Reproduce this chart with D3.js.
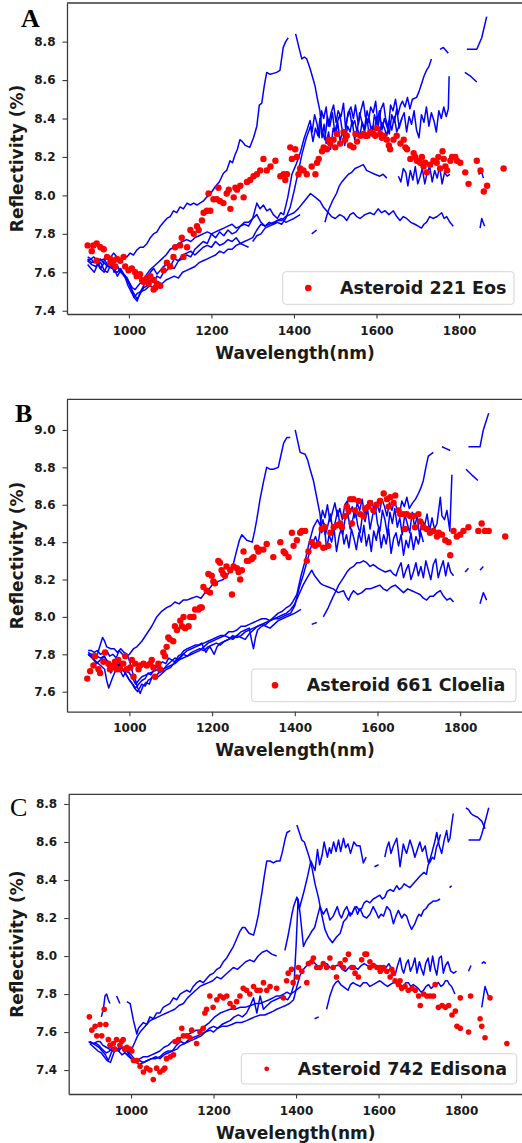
<!DOCTYPE html>
<html>
<head>
<meta charset="utf-8">
<script src="https://cdnjs.cloudflare.com/ajax/libs/d3/7.8.5/d3.min.js"></script>
<style>
  body { margin: 0; background: #fff; }
  svg text { font-family: "DejaVu Sans", sans-serif; }
</style>
</head>
<body>
<div id="chart"></div>
<script>
// ---------- shared tick values ----------
var xTicks = [1000, 1200, 1400, 1600, 1800];
var yTicksEos = [7.4, 7.6, 7.8, 8.0, 8.2, 8.4, 8.6, 8.8];
var yTicksCloelia = [7.6, 7.8, 8.0, 8.2, 8.4, 8.6, 8.8, 9.0];
var yTicksEdisona = [7.4, 7.6, 7.8, 8.0, 8.2, 8.4, 8.6, 8.8];

// ---------- panel A : Asteroid 221 Eos ----------
// lab spectra, [wavelength nm, reflectivity %], null = gap in the curve
var eosPeak = [[900,7.68],[908,7.67],[915,7.68],[923,7.66],[931,7.67],[938,7.65],[945,7.69],[953,7.67],[963,7.70],[971,7.68],[980,7.66],[988,7.69],[995,7.68],[1003,7.70],[1011,7.69],[1019,7.715],[1027,7.73],[1035,7.73],[1044,7.75],[1052,7.78],[1060,7.80],[1068,7.81],[1076,7.84],[1084,7.86],[1092,7.88],[1100,7.89],[1108,7.92],[1116,7.91],[1124,7.94],[1132,7.93],[1141,7.96],[1149,7.95],[1157,7.96],[1165,7.95],[1172,7.96],[1180,7.97],[1188,7.99],[1198,8.01],[1209,8.045],[1219,8.07],[1229,8.115],[1237,8.13],[1245,8.18],[1251,8.17],[1257,8.21],[1263,8.24],[1269,8.29],[1275,8.28],[1282,8.26],[1293,8.25],[1302,8.30],[1310,8.36],[1316,8.47],[1322,8.48],[1328,8.57],[1334,8.64],[1342,8.63],[1350,8.635],[1358,8.64],[1366,8.65],[1370,8.71],[1374,8.77],[1380,8.80],[1386,8.82],null,[1404,8.84],[1412,8.77],[1419,8.71],[1425,8.72],[1431,8.71],[1439,8.66],[1447,8.60],[1451,8.57],[1457,8.50],[1463,8.44],[1468,8.30],[1473,8.37],[1478,8.27],[1484,8.33],[1489,8.24],[1495,8.35],[1501,8.31],[1506,8.38],[1512,8.28],[1518,8.34],[1523,8.26],[1530,8.36],[1536,8.33],[1541,8.39],[1547,8.29],[1553,8.35],[1560,8.31],[1565,8.38],[1571,8.33],[1577,8.40],[1583,8.30],[1589,8.36],[1595,8.34],[1601,8.41],[1607,8.32],[1613,8.38],[1619,8.35],[1625,8.31],[1631,8.39],[1637,8.34],[1643,8.41],[1649,8.33],[1656,8.37],[1662,8.40]];
var eosTop = [[900,7.66],[908,7.67],[916,7.65],[924,7.66],[932,7.62],[940,7.65],[948,7.63],[956,7.66],[964,7.60],[972,7.63],[980,7.61],[988,7.58],[996,7.56],[1004,7.52],[1012,7.49],[1020,7.46],[1028,7.49],[1036,7.52],[1044,7.53],[1052,7.56],[1060,7.55],[1068,7.58],[1076,7.57],[1084,7.60],[1092,7.61],[1100,7.63],[1110,7.62],[1120,7.66],[1130,7.67],[1140,7.69],[1150,7.68],[1160,7.72],[1170,7.74],[1180,7.76],[1190,7.75],[1200,7.80],[1210,7.78],[1220,7.81],[1230,7.79],[1240,7.82],[1250,7.80],[1260,7.81],[1270,7.84],[1280,7.85],[1290,7.84],[1300,7.88],[1310,7.96],[1318,7.93],[1326,7.95],[1334,7.92],[1342,7.93],[1350,7.90],[1360,7.88],[1368,7.91],[1375,7.90],[1385,7.99],[1395,8.11],[1405,8.16],[1415,8.22],[1425,8.30],[1433,8.35],[1439,8.39],[1444,8.33],[1450,8.42],[1456,8.37],[1461,8.30],[1467,8.44],[1472,8.40],[1478,8.46],[1483,8.36],[1490,8.43],[1496,8.47],[1502,8.38],[1507,8.44],[1514,8.41],[1520,8.48],[1525,8.35],[1531,8.43],[1538,8.46],[1544,8.40],[1549,8.47],[1556,8.37],[1562,8.44],[1568,8.49],[1573,8.41],[1580,8.38],[1586,8.46],[1592,8.43],[1598,8.49],[1604,8.36],[1611,8.45],[1617,8.48],[1622,8.40],[1629,8.35],[1634,8.47],[1640,8.44],[1646,8.50],[1652,8.42],[1658,8.47],[1663,8.49],[1669,8.46],[1675,8.51],[1681,8.45],[1687,8.50],[1697,8.51],[1703,8.54],[1709,8.58],[1715,8.62],[1721,8.65],[1727,8.67],[1733,8.71],null,[1754,8.76],[1762,8.77],[1774,8.74],null,[1819,8.76],[1843,8.76],[1855,8.82],[1867,8.93]];
var eosMid = [[900,7.64],[908,7.62],[916,7.60],[924,7.64],[932,7.65],[940,7.61],[948,7.60],[956,7.64],[964,7.62],[972,7.58],[980,7.61],[988,7.59],[996,7.57],[1004,7.53],[1012,7.47],[1020,7.45],[1028,7.50],[1036,7.53],[1044,7.57],[1052,7.60],[1060,7.62],[1068,7.59],[1076,7.61],[1084,7.63],[1092,7.64],[1100,7.63],[1110,7.67],[1120,7.66],[1130,7.69],[1140,7.70],[1150,7.71],[1160,7.69],[1170,7.71],[1180,7.73],[1190,7.74],[1200,7.73],[1210,7.76],[1220,7.74],[1230,7.75],[1240,7.77],[1250,7.76],[1260,7.78],[1270,7.75],[1280,7.74],[1290,7.73],null,[1300,7.76],[1310,7.79],[1320,7.80],[1330,7.83],[1340,7.84],[1350,7.85],[1360,7.86],[1370,7.85],[1380,7.88],[1391,7.94],[1400,8.02],[1410,8.12],[1420,8.22],[1430,8.30],[1440,8.36],[1446,8.28],[1452,8.35],[1458,8.31],[1463,8.40],[1469,8.33],[1475,8.29],[1481,8.41],[1487,8.36],[1493,8.43],[1499,8.33],[1505,8.38],[1511,8.42],[1517,8.34],[1523,8.31],[1529,8.40],[1535,8.44],[1541,8.36],[1547,8.39],[1553,8.33],[1559,8.43],[1565,8.38],[1571,8.35],[1577,8.44],[1583,8.39],[1589,8.31],[1595,8.42],[1601,8.37],[1607,8.44],[1613,8.34],[1619,8.40],[1625,8.36],[1631,8.32],[1637,8.42],[1643,8.38],[1649,8.45],[1655,8.35],[1661,8.40],[1667,8.43],[1673,8.33],[1679,8.41],[1685,8.37],[1691,8.44],[1697,8.34],[1703,8.30],[1709,8.42],[1715,8.38],[1721,8.46],[1727,8.36],[1733,8.43],[1739,8.39],[1745,8.33],[1751,8.44],[1757,8.40],[1763,8.46],[1769,8.41],[1774,8.45],[1776,8.62],null,[1814,8.64],[1828,8.62],[1843,8.59]];
var eosUpper = [[900,7.67],[910,7.65],[920,7.66],[930,7.62],[940,7.60],[948,7.64],[956,7.65],[964,7.61],[972,7.60],[980,7.62],[990,7.58],[998,7.53],[1005,7.50],[1013,7.47],[1020,7.49],[1030,7.50],[1040,7.51],[1050,7.53],[1060,7.52],[1070,7.55],[1080,7.54],[1090,7.56],[1100,7.57],[1110,7.58],[1120,7.57],[1130,7.60],[1140,7.61],[1150,7.62],[1160,7.63],[1170,7.65],[1180,7.66],[1190,7.67],[1200,7.68],[1210,7.69],[1220,7.71],[1230,7.70],[1240,7.72],[1250,7.72],[1260,7.74],[1270,7.75],[1280,7.76],[1290,7.77],[1300,7.78],[1310,7.82],[1320,7.85],[1330,7.84],[1340,7.86],[1350,7.85],[1360,7.87],[1370,7.88],[1380,7.86],[1390,7.87],[1400,7.88],[1415,7.90],null,[1443,7.80],[1455,7.82],null,[1475,7.86],[1483,7.92],[1493,7.97],[1503,8.01],[1510,8.05],[1516,8.07],[1524,8.09],[1532,8.11],[1540,8.12],[1548,8.14],[1558,8.15],[1568,8.16],[1576,8.13],[1586,8.12],[1596,8.11],[1608,8.10],[1616,8.11],[1625,8.09],null,[1653,8.10],[1659,8.07],[1665,8.14],[1671,8.12],[1676,8.05],[1682,8.13],[1688,8.08],[1694,8.15],[1700,8.06],[1706,8.10],[1711,8.14],[1717,8.06],[1723,8.12],[1729,8.15],[1735,8.07],[1741,8.13],[1747,8.09],[1753,8.15],[1759,8.06],[1765,8.12],[1771,8.10],[1778,8.11],null,[1847,8.11],[1855,8.12],[1859,8.09]];
var eosLow = [[900,7.66],[910,7.64],[920,7.63],[930,7.66],[940,7.67],[950,7.63],[960,7.62],[970,7.64],[980,7.60],[990,7.58],[1000,7.55],[1008,7.52],[1015,7.51],[1022,7.53],[1030,7.55],[1040,7.58],[1050,7.61],[1060,7.63],[1070,7.65],[1080,7.67],[1090,7.69],[1100,7.72],[1110,7.73],[1120,7.75],[1130,7.76],[1140,7.77],[1150,7.76],[1160,7.78],[1170,7.79],[1180,7.80],[1190,7.81],[1200,7.80],[1210,7.81],[1220,7.82],[1230,7.83],[1240,7.84],[1250,7.85],[1260,7.83],[1270,7.84],[1280,7.86],[1290,7.86],[1300,7.88],[1310,7.90],[1320,7.86],[1330,7.84],[1340,7.85],[1350,7.86],[1360,7.87],[1370,7.87],[1380,7.89],[1390,7.90],[1400,7.91],[1410,7.93],[1425,7.97],[1440,8.01],[1452,7.99],[1463,7.97],[1471,7.94],[1479,7.92],[1491,7.89],[1500,7.88],[1511,7.90],[1520,7.89],[1528,7.87],[1536,7.90],[1544,7.91],[1552,7.89],[1560,7.88],[1572,7.90],[1584,7.91],[1594,7.90],[1604,7.93],[1612,7.91],[1621,7.92],[1630,7.90],[1641,7.92],[1649,7.89],[1657,7.87],[1665,7.89],[1673,7.88],[1683,7.86],[1693,7.85],[1701,7.84],[1709,7.83],[1715,7.85],[1721,7.86],[1729,7.89],[1737,7.88],[1747,7.89],[1758,7.91],[1764,7.88],[1770,7.89],[1778,7.86],[1786,7.84],null,[1851,7.83],[1855,7.88],[1862,7.84]];
// asteroid measurements
var eosDots = [[900,7.74],[914,7.74],[922,7.75],[931,7.73],[939,7.72],[910,7.71],[922,7.66],[947,7.68],[955,7.67],[963,7.66],[971,7.67],[955,7.65],[967,7.63],[979,7.66],[987,7.68],[991,7.63],[999,7.61],[1007,7.62],[1015,7.60],[1019,7.58],[1027,7.59],[1032,7.56],[1036,7.55],[1044,7.57],[1048,7.54],[1052,7.58],[1060,7.56],[1064,7.52],[1068,7.54],[1076,7.53],[1060,7.51],[1084,7.61],[1092,7.65],[1100,7.63],[1108,7.68],[1112,7.73],[1124,7.74],[1128,7.78],[1132,7.68],[1141,7.73],[1149,7.82],[1157,7.80],[1165,7.84],[1169,7.82],[1177,7.87],[1181,7.91],[1189,7.92],[1193,8.01],[1197,7.92],[1205,7.98],[1213,7.98],[1217,8.04],[1221,7.97],[1229,7.96],[1237,8.01],[1242,8.03],[1246,7.93],[1254,7.99],[1258,8.04],[1262,8.03],[1270,8.05],[1278,7.99],[1286,8.07],[1294,8.08],[1302,8.10],[1310,8.11],[1318,8.13],[1326,8.19],[1334,8.13],[1343,8.15],[1355,8.18],[1367,8.10],[1375,8.11],[1379,8.08],[1383,8.11],[1391,8.25],[1395,8.19],[1403,8.24],[1407,8.20],[1411,8.11],[1415,8.14],[1423,8.13],[1431,8.11],[1443,8.15],[1452,8.11],[1456,8.17],[1460,8.19],[1468,8.23],[1472,8.25],[1480,8.24],[1484,8.29],[1488,8.27],[1496,8.29],[1500,8.25],[1504,8.32],[1512,8.27],[1520,8.33],[1524,8.29],[1528,8.31],[1536,8.26],[1544,8.25],[1549,8.32],[1553,8.28],[1561,8.31],[1569,8.32],[1573,8.31],[1577,8.31],[1585,8.33],[1593,8.32],[1597,8.31],[1601,8.35],[1609,8.32],[1613,8.30],[1617,8.31],[1625,8.29],[1630,8.26],[1633,8.24],[1641,8.29],[1649,8.31],[1658,8.27],[1666,8.29],[1670,8.25],[1674,8.24],[1682,8.19],[1690,8.22],[1694,8.20],[1698,8.18],[1706,8.17],[1710,8.20],[1714,8.15],[1718,8.17],[1722,8.12],[1730,8.16],[1738,8.18],[1746,8.17],[1750,8.20],[1754,8.14],[1763,8.19],[1767,8.15],[1771,8.13],[1779,8.18],[1783,8.20],[1760,8.23],[1791,8.20],[1795,8.18],[1803,8.17],[1815,8.12],[1823,8.06],[1843,8.18],[1852,8.13],[1860,8.02],[1868,8.05],[1908,8.14]];

// ---------- panel B : Asteroid 661 Cloelia ----------
var cloeliaPeak = [[900,7.82],[908,7.82],[915,7.81],[922,7.82],[930,7.80],[938,7.81],[945,7.82],[952,7.79],[960,7.80],[968,7.78],[975,7.82],[983,7.80],[990,7.78],[1000,7.80],[1010,7.83],[1018,7.84],[1030,7.87],[1042,7.91],[1054,7.95],[1066,8.00],[1078,8.03],[1090,8.05],[1100,8.06],[1110,8.08],[1120,8.07],[1130,8.09],[1139,8.09],[1150,8.10],[1163,8.11],[1173,8.10],[1183,8.13],[1193,8.15],[1203,8.18],[1215,8.19],[1227,8.20],[1236,8.22],[1244,8.25],[1252,8.29],[1260,8.36],[1266,8.41],[1272,8.44],[1284,8.41],[1297,8.40],[1303,8.46],[1308,8.52],[1316,8.63],[1324,8.72],[1332,8.80],[1340,8.79],[1348,8.79],[1360,8.80],[1367,8.87],[1373,8.93],[1381,8.96],[1389,8.96],null,[1401,9.00],[1407,8.94],[1413,8.88],[1425,8.87],[1431,8.84],[1437,8.79],[1445,8.73],[1453,8.64],[1461,8.55],[1465,8.45],[1471,8.50],[1477,8.36],[1483,8.44],[1489,8.40],[1495,8.47],[1501,8.35],[1507,8.43],[1513,8.48],[1519,8.39],[1525,8.44],[1531,8.37],[1537,8.47],[1543,8.42],[1549,8.36],[1555,8.45],[1561,8.40],[1567,8.49],[1573,8.38],[1579,8.44],[1585,8.35],[1591,8.46],[1597,8.41],[1603,8.48],[1609,8.37],[1615,8.44],[1621,8.39],[1627,8.47],[1633,8.34],[1639,8.42],[1645,8.45],[1651,8.38],[1657,8.44],[1663,8.33],[1669,8.41],[1675,8.37],[1681,8.45],[1687,8.36],[1693,8.43],[1699,8.39],[1705,8.45],[1711,8.40]];
var cloeliaTop = [[900,7.80],[910,7.78],[920,7.76],[930,7.74],[940,7.72],[945,7.66],[950,7.62],[955,7.65],[960,7.68],[968,7.72],[975,7.75],[982,7.72],[990,7.70],[998,7.67],[1005,7.65],[1012,7.62],[1020,7.60],[1030,7.64],[1038,7.63],[1045,7.66],[1052,7.67],[1060,7.69],[1070,7.68],[1080,7.70],[1090,7.72],[1100,7.73],[1110,7.76],[1120,7.78],[1130,7.80],[1140,7.82],[1150,7.83],[1160,7.84],[1170,7.85],[1180,7.86],[1190,7.87],[1200,7.88],[1210,7.89],[1220,7.90],[1230,7.90],[1240,7.92],[1250,7.92],[1260,7.93],[1270,7.95],[1280,7.95],[1290,7.96],[1300,7.97],[1310,7.98],[1320,7.99],[1330,7.99],[1340,7.98],[1350,8.00],[1360,8.02],[1370,8.03],[1380,8.05],[1388,8.06],[1395,8.08],[1405,8.12],[1415,8.22],[1425,8.30],[1435,8.40],[1445,8.48],[1455,8.52],[1461,8.49],[1467,8.57],[1473,8.53],[1479,8.60],[1485,8.51],[1491,8.56],[1497,8.61],[1503,8.54],[1509,8.58],[1515,8.52],[1521,8.60],[1527,8.62],[1533,8.55],[1539,8.59],[1545,8.53],[1551,8.61],[1557,8.57],[1563,8.63],[1569,8.54],[1575,8.60],[1581,8.58],[1587,8.62],[1593,8.55],[1599,8.60],[1605,8.56],[1611,8.63],[1617,8.59],[1623,8.54],[1629,8.61],[1635,8.57],[1641,8.62],[1647,8.58],[1653,8.55],[1659,8.62],[1665,8.59],[1671,8.64],[1677,8.58],[1685,8.61],[1692,8.63],[1699,8.66],[1705,8.69],[1711,8.73],[1717,8.80],[1723,8.86],[1735,8.88],null,[1756,8.91],[1766,8.90],[1776,8.89],null,[1820,8.91],[1848,8.91],[1856,9.00],[1869,9.09]];
var cloeliaMid = [[900,7.80],[910,7.79],[920,7.78],[928,7.84],[935,7.89],[940,7.87],[945,7.84],[955,7.83],[963,7.83],[971,7.81],[979,7.83],[987,7.81],[995,7.80],[1002,7.75],[1008,7.70],[1015,7.66],[1020,7.62],[1026,7.59],[1033,7.63],[1040,7.65],[1048,7.64],[1055,7.68],[1062,7.67],[1070,7.70],[1080,7.71],[1090,7.74],[1100,7.76],[1110,7.78],[1120,7.77],[1130,7.80],[1140,7.79],[1150,7.81],[1160,7.82],[1170,7.83],[1180,7.82],[1190,7.84],[1200,7.85],[1210,7.86],[1220,7.85],[1230,7.87],[1240,7.88],[1250,7.90],[1260,7.89],[1270,7.90],[1280,7.92],[1290,7.93],[1300,7.94],[1310,7.95],[1320,7.96],[1330,7.97],[1340,7.98],[1350,7.99],[1360,7.99],[1370,8.00],[1380,8.01],[1390,8.02],[1400,8.06],[1410,8.15],[1420,8.22],[1430,8.30],[1440,8.38],[1450,8.43],[1456,8.39],[1462,8.47],[1468,8.52],[1474,8.44],[1480,8.49],[1486,8.55],[1492,8.46],[1498,8.51],[1504,8.57],[1510,8.48],[1516,8.44],[1522,8.53],[1528,8.56],[1534,8.47],[1540,8.52],[1546,8.58],[1552,8.49],[1558,8.45],[1564,8.55],[1570,8.51],[1576,8.58],[1582,8.47],[1588,8.54],[1594,8.60],[1600,8.50],[1606,8.46],[1612,8.57],[1618,8.52],[1624,8.44],[1630,8.56],[1636,8.50],[1642,8.58],[1648,8.48],[1654,8.53],[1660,8.44],[1666,8.55],[1672,8.50],[1678,8.45],[1684,8.56],[1690,8.48],[1696,8.54],[1702,8.43],[1708,8.52],[1714,8.49],[1720,8.55],[1726,8.46],[1732,8.53],[1738,8.47],[1744,8.50],[1752,8.64],[1756,8.54],[1762,8.52],[1768,8.57],[1775,8.46],[1780,8.76],null,[1814,8.79],[1828,8.76],[1843,8.73]];
var cloeliaUpper = [[900,7.81],[908,7.80],[915,7.80],[922,7.79],[930,7.78],[938,7.79],[945,7.77],[952,7.75],[960,7.72],[968,7.75],[975,7.76],[982,7.73],[990,7.70],[1000,7.66],[1008,7.64],[1015,7.62],[1022,7.64],[1030,7.66],[1038,7.67],[1045,7.70],[1052,7.69],[1060,7.72],[1070,7.74],[1080,7.76],[1088,7.75],[1095,7.78],[1102,7.77],[1110,7.76],[1118,7.79],[1125,7.80],[1132,7.82],[1140,7.83],[1150,7.84],[1160,7.85],[1168,7.85],[1175,7.86],[1180,7.83],[1185,7.81],[1190,7.83],[1195,7.84],[1200,7.82],[1205,7.80],[1212,7.84],[1220,7.86],[1230,7.87],[1240,7.88],[1250,7.89],[1260,7.90],[1270,7.89],[1280,7.88],[1290,7.91],[1300,7.93],[1310,7.95],[1320,7.96],[1330,7.95],[1340,7.94],[1350,7.96],[1360,7.98],[1370,7.99],[1380,8.00],[1390,8.01],[1400,8.02],[1415,8.04],null,[1441,7.96],[1453,7.97],null,[1469,8.00],[1481,8.05],[1493,8.11],[1500,8.14],[1506,8.17],[1512,8.19],[1518,8.21],[1526,8.24],[1534,8.26],[1542,8.27],[1550,8.29],[1558,8.29],[1566,8.30],[1574,8.29],[1582,8.27],[1590,8.28],[1602,8.26],[1610,8.25],[1619,8.24],[1631,8.25],[1638,8.23],[1645,8.22],[1651,8.26],[1657,8.29],[1663,8.21],[1669,8.25],[1675,8.28],[1681,8.20],[1687,8.24],[1693,8.29],[1699,8.22],[1705,8.27],[1711,8.21],[1717,8.30],[1723,8.25],[1729,8.20],[1735,8.28],[1741,8.31],[1747,8.21],[1753,8.26],[1759,8.30],[1765,8.22],[1771,8.29],[1777,8.24],[1784,8.22],null,[1812,8.24],[1820,8.26],null,[1848,8.25],[1856,8.27]];
var cloeliaLow = [[900,7.80],[910,7.78],[920,7.75],[930,7.77],[940,7.79],[948,7.74],[955,7.70],[962,7.73],[970,7.75],[978,7.71],[985,7.68],[992,7.71],[1000,7.70],[1008,7.67],[1015,7.64],[1022,7.66],[1030,7.68],[1040,7.69],[1050,7.70],[1060,7.71],[1070,7.72],[1080,7.72],[1090,7.73],[1100,7.74],[1110,7.75],[1120,7.77],[1130,7.78],[1140,7.79],[1150,7.80],[1160,7.81],[1170,7.82],[1180,7.84],[1190,7.86],[1200,7.87],[1210,7.88],[1220,7.89],[1230,7.90],[1240,7.89],[1250,7.88],[1260,7.90],[1270,7.92],[1280,7.93],[1290,7.94],[1295,7.88],[1300,7.83],[1305,7.89],[1310,7.93],[1320,7.95],[1330,7.96],[1340,7.98],[1350,7.99],[1360,8.00],[1370,8.01],[1380,8.02],[1390,8.04],[1400,8.07],[1410,8.12],[1420,8.17],[1430,8.21],[1441,8.25],[1448,8.22],[1455,8.20],[1462,8.18],[1469,8.17],[1481,8.16],[1493,8.15],[1505,8.13],[1518,8.14],[1524,8.11],[1530,8.09],[1536,8.12],[1542,8.14],[1552,8.12],[1562,8.13],[1572,8.15],[1582,8.15],[1594,8.16],[1606,8.17],[1614,8.15],[1623,8.14],[1633,8.16],[1643,8.17],[1653,8.15],[1663,8.13],[1673,8.15],[1683,8.14],[1693,8.13],[1703,8.12],[1711,8.10],[1719,8.09],[1727,8.11],[1735,8.11],[1744,8.13],[1752,8.14],[1760,8.11],[1768,8.09],[1776,8.10],[1784,8.08],null,[1848,8.07],[1856,8.13],[1864,8.09]];
var cloeliaDots = [[898,7.67],[905,7.71],[913,7.74],[917,7.79],[925,7.72],[929,7.70],[937,7.76],[941,7.81],[949,7.75],[953,7.72],[961,7.74],[965,7.76],[973,7.77],[969,7.72],[977,7.72],[985,7.75],[990,7.79],[994,7.72],[1002,7.73],[1006,7.77],[1010,7.68],[1014,7.75],[1022,7.72],[1026,7.74],[1034,7.75],[1042,7.74],[1050,7.75],[1054,7.77],[1058,7.73],[1062,7.68],[1070,7.75],[1074,7.72],[1082,7.81],[1086,7.79],[1090,7.84],[1094,7.89],[1098,7.88],[1106,7.87],[1110,7.95],[1115,7.93],[1123,7.98],[1127,7.95],[1131,8.00],[1135,7.94],[1143,7.95],[1147,8.00],[1155,8.00],[1159,8.04],[1167,8.04],[1171,8.05],[1175,8.05],[1179,8.16],[1187,8.14],[1191,8.23],[1195,8.13],[1199,8.22],[1203,8.19],[1207,8.18],[1215,8.30],[1219,8.29],[1223,8.25],[1227,8.23],[1231,8.22],[1235,8.27],[1244,8.25],[1248,8.12],[1252,8.27],[1260,8.26],[1264,8.24],[1268,8.20],[1272,8.25],[1276,8.35],[1284,8.30],[1288,8.30],[1296,8.31],[1300,8.32],[1308,8.37],[1312,8.35],[1316,8.36],[1324,8.36],[1332,8.39],[1348,8.32],[1365,8.40],[1373,8.35],[1377,8.34],[1385,8.32],[1393,8.45],[1397,8.38],[1405,8.41],[1413,8.45],[1417,8.46],[1425,8.46],[1429,8.30],[1433,8.35],[1441,8.40],[1449,8.38],[1457,8.39],[1465,8.47],[1469,8.37],[1473,8.48],[1481,8.38],[1486,8.45],[1494,8.48],[1502,8.49],[1510,8.50],[1514,8.48],[1522,8.54],[1526,8.59],[1530,8.57],[1534,8.63],[1542,8.63],[1538,8.50],[1546,8.57],[1554,8.62],[1558,8.55],[1566,8.54],[1570,8.58],[1578,8.59],[1582,8.61],[1590,8.57],[1598,8.60],[1606,8.62],[1615,8.66],[1623,8.63],[1627,8.59],[1631,8.64],[1639,8.61],[1643,8.65],[1651,8.57],[1655,8.55],[1663,8.55],[1667,8.47],[1671,8.55],[1679,8.54],[1687,8.54],[1691,8.48],[1699,8.55],[1703,8.51],[1711,8.48],[1719,8.47],[1727,8.45],[1735,8.46],[1744,8.43],[1748,8.45],[1756,8.44],[1764,8.41],[1772,8.40],[1776,8.33],[1784,8.46],[1792,8.43],[1800,8.44],[1808,8.46],[1820,8.48],[1844,8.46],[1852,8.50],[1860,8.46],[1869,8.46],[1909,8.43]];

// ---------- panel C : Asteroid 742 Edisona ----------
var edisonaPeak = [[928,7.68],[933,7.72],[937,7.79],[941,7.80],[945,7.77],[949,7.75],null,[965,7.79],[973,7.75],null,[990,7.76],[998,7.75],[1006,7.66],[1014,7.59],[1018,7.62],[1022,7.63],[1030,7.65],[1038,7.64],[1046,7.68],[1054,7.67],[1062,7.70],[1070,7.70],[1078,7.73],[1086,7.74],[1094,7.75],[1103,7.78],[1111,7.77],[1119,7.80],[1127,7.81],[1135,7.82],[1143,7.81],[1151,7.84],[1159,7.86],[1167,7.87],[1175,7.86],[1183,7.88],[1191,7.90],[1200,7.91],[1208,7.93],[1216,7.94],[1224,7.97],[1232,7.99],[1240,8.02],[1248,8.05],[1256,8.09],[1264,8.13],[1270,8.15],[1276,8.15],[1286,8.12],[1297,8.11],[1303,8.16],[1309,8.22],[1313,8.28],[1317,8.33],[1323,8.42],[1329,8.50],[1337,8.50],[1345,8.49],[1353,8.50],[1361,8.50],[1366,8.54],[1370,8.58],[1374,8.62],[1378,8.65],[1386,8.66],null,[1402,8.69],[1408,8.65],[1414,8.61],[1420,8.60],[1426,8.56],[1432,8.52],[1438,8.47],[1446,8.38],[1454,8.31],[1462,8.22],[1470,8.14],[1478,8.10],[1488,8.07],[1498,8.10],[1507,8.12],[1515,8.18],[1523,8.20],[1529,8.23],[1535,8.22],[1541,8.25],[1547,8.26],[1553,8.24],[1559,8.25],[1565,8.28],[1571,8.29],[1579,8.28],[1587,8.30],[1595,8.31],[1603,8.32],[1609,8.30],[1615,8.31],[1621,8.34],[1628,8.35],[1636,8.34],[1644,8.37],[1650,8.35],[1656,8.36],[1662,8.38],[1668,8.37],[1676,8.36],[1684,8.38],[1692,8.40],[1700,8.42],[1710,8.44],[1716,8.43],[1720,8.48],[1726,8.50],[1730,8.52],[1735,8.51],[1740,8.57],[1745,8.60],[1750,8.64],null,[1818,8.61],[1832,8.61],[1845,8.61],[1850,8.64],[1855,8.68],[1861,8.73],[1867,8.78]];
var edisonaTop = [[897,7.55],[905,7.54],[910,7.54],[918,7.55],[925,7.55],[932,7.53],[940,7.52],[948,7.51],[955,7.50],[962,7.51],[970,7.50],[978,7.48],[985,7.49],[992,7.48],[1000,7.50],[1010,7.55],[1016,7.58],[1022,7.60],[1030,7.62],[1038,7.64],[1046,7.66],[1056,7.67],[1066,7.68],[1076,7.69],[1086,7.70],[1096,7.71],[1106,7.72],[1116,7.74],[1127,7.75],[1137,7.78],[1147,7.80],[1157,7.82],[1167,7.84],[1177,7.85],[1188,7.86],[1198,7.87],[1208,7.89],[1218,7.88],[1228,7.90],[1238,7.92],[1248,7.94],[1258,7.93],[1268,7.95],[1278,7.97],[1288,7.98],[1298,7.97],[1308,8.00],[1318,8.02],[1329,8.03],[1341,8.01],[1353,8.00],null,[1373,8.03],[1380,8.10],[1386,8.17],[1390,8.22],[1394,8.26],[1402,8.31],[1408,8.25],[1418,8.33],[1428,8.42],[1436,8.50],[1446,8.45],[1452,8.56],[1457,8.48],[1463,8.53],[1468,8.60],[1476,8.52],[1481,8.57],[1485,8.54],[1491,8.60],[1497,8.55],[1503,8.61],[1508,8.55],[1515,8.62],[1520,8.57],[1526,8.59],[1532,8.54],[1540,8.60],[1547,8.58],[1555,8.58],[1563,8.49],[1570,8.52],null,[1590,8.47],[1600,8.48],null,[1615,8.52],[1620,8.57],[1625,8.60],[1630,8.54],[1636,8.58],[1644,8.62],[1648,8.55],[1652,8.47],[1656,8.53],[1660,8.59],[1664,8.56],[1668,8.54],[1676,8.61],[1682,8.57],[1688,8.52],[1694,8.56],[1700,8.60],[1706,8.55],[1713,8.58],[1717,8.53],[1721,8.49],[1726,8.52],[1730,8.55],[1736,8.60],[1741,8.65],[1747,8.58],[1753,8.54],[1759,8.61],[1765,8.66],[1769,8.60],[1773,8.62],[1777,8.69],[1781,8.75],null,[1812,8.78],[1818,8.77],[1824,8.75],[1830,8.74],[1840,8.73],[1850,8.71],[1858,8.67]];
var edisonaMid = [[900,7.54],[910,7.52],[920,7.50],[928,7.49],[935,7.47],[942,7.45],[950,7.44],[955,7.47],[960,7.50],[968,7.51],[975,7.52],[982,7.51],[990,7.50],[998,7.47],[1005,7.45],[1012,7.44],[1020,7.43],[1030,7.44],[1040,7.45],[1050,7.46],[1060,7.47],[1070,7.46],[1080,7.48],[1090,7.49],[1100,7.50],[1110,7.53],[1120,7.55],[1130,7.54],[1140,7.56],[1150,7.57],[1160,7.58],[1170,7.59],[1180,7.60],[1190,7.62],[1200,7.63],[1210,7.62],[1220,7.64],[1230,7.65],[1240,7.66],[1250,7.68],[1260,7.69],[1270,7.68],[1280,7.70],[1289,7.74],[1297,7.78],[1305,7.70],[1313,7.79],[1321,7.72],[1330,7.74],[1340,7.76],[1350,7.77],[1360,7.78],[1370,7.78],[1380,7.77],[1388,7.80],[1395,7.85],[1400,8.05],[1405,8.30],[1410,8.22],[1418,8.05],[1424,8.08],[1430,8.10],[1438,8.13],[1445,8.15],[1452,8.21],[1458,8.26],[1466,8.22],[1474,8.25],[1482,8.19],[1490,8.21],[1500,8.26],[1505,8.22],[1510,8.20],[1517,8.24],[1523,8.26],[1531,8.21],[1537,8.23],[1543,8.26],[1549,8.22],[1555,8.25],[1563,8.21],[1571,8.20],[1579,8.22],[1587,8.26],[1594,8.23],[1600,8.20],[1606,8.22],[1612,8.21],[1620,8.26],[1628,8.24],[1636,8.17],[1642,8.21],[1648,8.24],[1656,8.20],[1662,8.22],[1668,8.21],[1674,8.17],[1680,8.14],[1688,8.17],[1693,8.20],[1698,8.22],[1703,8.21],[1709,8.24],[1715,8.25],[1721,8.27],[1727,8.28],[1733,8.29],[1741,8.29],[1749,8.30],null,[1772,8.36],[1777,8.37]];
var edisonaUpper = [[900,7.55],[908,7.54],[915,7.53],[922,7.52],[930,7.50],[938,7.48],[945,7.45],[952,7.49],[960,7.52],[968,7.51],[975,7.53],[982,7.50],[990,7.48],[1000,7.46],[1010,7.44],[1020,7.45],[1030,7.44],[1040,7.45],[1050,7.46],[1060,7.46],[1070,7.47],[1080,7.49],[1090,7.50],[1100,7.50],[1111,7.51],[1120,7.53],[1130,7.54],[1140,7.55],[1151,7.56],[1160,7.57],[1170,7.58],[1180,7.60],[1192,7.61],[1200,7.60],[1210,7.62],[1220,7.63],[1232,7.63],[1244,7.64],[1255,7.65],[1268,7.65],[1280,7.66],[1290,7.67],[1300,7.68],[1313,7.69],[1324,7.69],[1335,7.70],[1345,7.71],[1353,7.72],[1364,7.73],[1375,7.74],[1384,7.75],[1394,7.77],[1402,7.84],[1410,7.90],[1418,7.93],[1426,7.95],[1434,7.96],[1442,7.97],[1451,7.95],[1460,7.94],[1467,7.96],[1475,7.96],[1482,7.94],[1490,7.93],[1497,7.95],[1505,7.95],[1512,7.93],[1520,7.92],[1528,7.94],[1535,7.95],[1543,7.94],[1550,7.93],[1558,7.95],[1565,7.96],[1573,7.95],[1580,7.94],[1588,7.96],[1595,7.95],[1603,7.93],[1610,7.92],[1618,7.94],[1625,7.96],[1632,7.93],[1640,7.90],[1646,7.95],[1652,7.99],[1657,7.93],[1661,7.91],[1667,7.96],[1672,7.98],[1677,7.92],[1683,7.95],[1688,7.99],[1693,7.91],[1699,7.97],[1704,7.93],[1709,7.90],[1714,7.96],[1720,7.99],[1725,7.92],[1731,8.00],[1736,7.94],[1741,7.90],[1747,7.99],[1752,8.00],[1757,7.91],[1762,7.95],[1768,7.97],[1775,7.92],[1782,7.91],[1789,7.92],null,[1818,7.92],[1824,7.95],null,[1850,7.96],[1855,7.97],[1860,7.96]];
var edisonaLow = [[900,7.55],[908,7.54],[915,7.54],[922,7.53],[930,7.51],[940,7.49],[948,7.50],[955,7.52],[962,7.51],[970,7.50],[978,7.52],[985,7.52],[992,7.50],[1000,7.48],[1008,7.46],[1015,7.45],[1022,7.46],[1030,7.47],[1040,7.47],[1050,7.48],[1060,7.49],[1070,7.50],[1080,7.52],[1090,7.53],[1100,7.55],[1111,7.56],[1120,7.57],[1130,7.58],[1140,7.59],[1150,7.60],[1158,7.61],[1167,7.61],[1178,7.63],[1190,7.65],[1203,7.68],[1216,7.70],[1228,7.71],[1240,7.72],[1252,7.72],[1264,7.73],[1276,7.73],[1290,7.74],[1302,7.75],[1313,7.75],[1324,7.76],[1335,7.77],[1344,7.78],[1353,7.79],[1362,7.79],[1370,7.80],[1378,7.81],[1386,7.80],[1394,7.81],[1400,7.82],[1412,7.84],null,[1445,7.67],[1455,7.68],null,[1474,7.72],[1482,7.79],[1490,7.84],[1496,7.86],[1502,7.87],[1508,7.85],[1514,7.84],[1520,7.83],[1526,7.82],[1532,7.85],[1538,7.86],[1546,7.85],[1555,7.84],[1563,7.86],[1571,7.86],[1579,7.84],[1587,7.85],[1595,7.86],[1603,7.87],[1609,7.86],[1615,7.85],[1622,7.84],[1628,7.85],[1636,7.86],[1644,7.86],[1652,7.85],[1660,7.84],[1666,7.86],[1672,7.86],[1678,7.84],[1684,7.85],[1690,7.84],[1696,7.83],[1703,7.81],[1709,7.82],[1715,7.84],[1721,7.85],[1727,7.83],[1733,7.84],[1739,7.85],[1745,7.86],[1751,7.84],[1757,7.85],[1762,7.87],[1767,7.87],[1772,7.85],[1777,7.84],[1785,7.80],null,[1850,7.73],[1858,7.84],[1866,7.79]];
var edisonaDots = [[899,7.68],[905,7.61],[913,7.63],[917,7.58],[925,7.64],[929,7.58],[935,7.72],[939,7.64],[945,7.56],[949,7.53],[957,7.54],[961,7.51],[965,7.56],[973,7.53],[977,7.55],[981,7.56],[985,7.51],[990,7.52],[998,7.51],[1002,7.50],[1006,7.45],[1014,7.45],[1022,7.42],[1030,7.39],[1038,7.41],[1046,7.40],[1054,7.35],[1062,7.41],[1070,7.39],[1078,7.40],[1082,7.41],[1086,7.46],[1095,7.47],[1103,7.48],[1107,7.55],[1115,7.56],[1123,7.62],[1127,7.58],[1135,7.58],[1143,7.57],[1147,7.61],[1159,7.54],[1167,7.60],[1175,7.62],[1179,7.70],[1183,7.72],[1191,7.79],[1199,7.73],[1208,7.77],[1216,7.79],[1224,7.78],[1232,7.79],[1240,7.75],[1248,7.73],[1256,7.76],[1264,7.79],[1272,7.83],[1280,7.82],[1288,7.80],[1297,7.84],[1305,7.82],[1313,7.82],[1321,7.86],[1329,7.82],[1337,7.84],[1353,7.83],[1369,7.78],[1377,7.87],[1381,7.91],[1389,7.93],[1393,7.86],[1402,7.89],[1406,7.94],[1414,7.92],[1426,7.86],[1430,7.96],[1438,7.97],[1442,7.99],[1450,7.94],[1458,7.94],[1466,7.96],[1474,7.94],[1482,7.99],[1490,7.94],[1498,7.89],[1507,7.96],[1515,7.94],[1519,7.98],[1527,8.01],[1535,7.94],[1539,7.94],[1543,7.91],[1551,7.89],[1559,7.98],[1567,8.01],[1571,8.01],[1579,7.97],[1579,7.94],[1587,7.95],[1596,7.94],[1604,7.92],[1604,7.94],[1612,7.94],[1620,7.92],[1628,7.89],[1632,7.93],[1636,7.91],[1640,7.87],[1648,7.85],[1652,7.87],[1656,7.83],[1664,7.84],[1672,7.82],[1681,7.83],[1689,7.82],[1697,7.79],[1701,7.74],[1709,7.80],[1717,7.79],[1725,7.79],[1733,7.79],[1737,7.85],[1745,7.73],[1754,7.74],[1762,7.73],[1770,7.74],[1778,7.69],[1786,7.71],[1790,7.63],[1798,7.62],[1798,7.78],[1818,7.60],[1823,7.79],[1846,7.67],[1850,7.63],[1858,7.57],[1870,7.78],[1911,7.54]];

// ---------- layout of the three panels ----------
var svgWidth = 522;
var svgHeight = 1143;

var panels = [
  { letter: "A", letterBold: true, letterX: 21, letterY: 26.7,
    label: "Asteroid 221 Eos",
    curves: [eosPeak, eosTop, eosMid, eosUpper, eosLow], dots: eosDots,
    left: 67, right: 523, top: 3, bottom: 314,
    xDomain: [850, 1955], yDomain: [7.383, 9.001], yTicks: yTicksEos,
    legend: { x: 282.7, y: 271.7, w: 231.3, h: 32.6, mx: 308.3, tx: 340 },
    dotR: 3.2, legendR: 3.3 },
  { letter: "B", letterBold: true, letterX: 15, letterY: 421.7,
    label: "Asteroid 661 Cloelia",
    curves: [cloeliaPeak, cloeliaTop, cloeliaMid, cloeliaUpper, cloeliaLow], dots: cloeliaDots,
    left: 67, right: 523, top: 399.3, bottom: 711.7,
    xDomain: [849, 1952], yDomain: [7.493, 9.164], yTicks: yTicksCloelia,
    legend: { x: 251.7, y: 669, w: 264.3, h: 32.7, mx: 275, tx: 306.7 },
    dotR: 3.2, legendR: 3.3 },
  { letter: "C", letterBold: false, letterX: 10, letterY: 816,
    label: "Asteroid 742 Edisona",
    curves: [edisonaPeak, edisonaTop, edisonaMid, edisonaUpper, edisonaLow], dots: edisonaDots,
    left: 68.7, right: 523, top: 794.3, bottom: 1094,
    xDomain: [849, 1950], yDomain: [7.274, 8.851], yTicks: yTicksEdisona,
    legend: { x: 241.3, y: 1053.7, w: 275.4, h: 30.3, mx: 266.7, tx: 297.7 },
    dotR: 2.8, legendR: 2.4 }
];

var svg = d3.select("#chart")
  .append("svg")
  .attr("width", svgWidth)
  .attr("height", svgHeight);

panels.forEach(function(p) {
  var g = svg.append("g");

  var xScale = d3.scaleLinear().domain(p.xDomain).range([p.left, p.right]);
  var yScale = d3.scaleLinear().domain(p.yDomain).range([p.bottom, p.top]);

  // axes
  var bottomAxis = d3.axisBottom(xScale)
    .tickValues(xTicks)
    .tickFormat(d3.format("d"))
    .tickSize(4.5)
    .tickSizeOuter(0)
    .tickPadding(7.5);
  var leftAxis = d3.axisLeft(yScale)
    .tickValues(p.yTicks)
    .tickFormat(d3.format(".1f"))
    .tickSize(4.5)
    .tickSizeOuter(0)
    .tickPadding(7);

  var xAxis = g.append("g")
    .attr("transform", `translate(0, ${p.bottom})`)
    .call(bottomAxis);
  var yAxis = g.append("g")
    .attr("transform", `translate(${p.left}, 0)`)
    .call(leftAxis);

  [xAxis, yAxis].forEach(function(ax) {
    ax.select(".domain").attr("stroke", "#3a3a3a").attr("stroke-width", 1.3);
    ax.selectAll(".tick line").attr("stroke", "#3a3a3a").attr("stroke-width", 1.1);
    ax.selectAll(".tick text")
      .attr("font-family", "DejaVu Sans")
      .attr("font-weight", "bold")
      .attr("font-size", "12px")
      .attr("fill", "#1a1a1a");
  });

  // top spine
  g.append("line")
    .attr("x1", p.left).attr("x2", p.right)
    .attr("y1", p.top).attr("y2", p.top)
    .attr("stroke", "#3a3a3a")
    .attr("stroke-width", 1.3);

  // lab spectra
  var line = d3.line()
    .defined(d => d !== null)
    .x(d => xScale(d[0]))
    .y(d => yScale(d[1]));

  g.selectAll(".curve")
    .data(p.curves)
    .enter()
    .append("path")
    .attr("class", "curve")
    .attr("d", line)
    .attr("fill", "none")
    .attr("stroke", "#0000ff")
    .attr("stroke-width", 1.5)
    .attr("stroke-linejoin", "round");

  // asteroid points
  g.selectAll(".dot")
    .data(p.dots)
    .enter()
    .append("circle")
    .attr("class", "dot")
    .attr("cx", d => xScale(d[0]))
    .attr("cy", d => yScale(d[1]))
    .attr("r", p.dotR)
    .attr("fill", "#ff0000");

  // axis titles
  g.append("text")
    .attr("x", (p.left + p.right) / 2)
    .attr("y", p.bottom + 44.5)
    .attr("text-anchor", "middle")
    .attr("font-weight", "bold")
    .attr("font-size", "17px")
    .attr("fill", "#1a1a1a")
    .text("Wavelength(nm)");

  g.append("text")
    .attr("transform", `translate(23, ${(p.top + p.bottom) / 2}) rotate(-90)`)
    .attr("text-anchor", "middle")
    .attr("font-weight", "bold")
    .attr("font-size", "17px")
    .attr("fill", "#1a1a1a")
    .text("Reflectivity (%)");

  // panel letter
  g.append("text")
    .attr("x", p.letterX)
    .attr("y", p.letterY)
    .style("font-family", "'Liberation Serif', serif")
    .attr("font-weight", p.letterBold ? "bold" : "normal")
    .attr("font-size", "26px")
    .attr("fill", "#000")
    .text(p.letter);

  // legend
  var lg = p.legend;
  g.append("rect")
    .attr("x", lg.x).attr("y", lg.y)
    .attr("width", lg.w).attr("height", lg.h)
    .attr("rx", 3)
    .attr("fill", "#fff")
    .attr("fill-opacity", 0.85)
    .attr("stroke", "#d4d4d4")
    .attr("stroke-width", 1);
  g.append("circle")
    .attr("cx", lg.mx)
    .attr("cy", lg.y + lg.h / 2)
    .attr("r", p.legendR)
    .attr("fill", "#ff0000");
  g.append("text")
    .attr("x", lg.tx)
    .attr("y", lg.y + lg.h / 2 + 6)
    .attr("font-weight", "bold")
    .attr("font-size", "17.5px")
    .attr("fill", "#1a1a1a")
    .text(p.label);
});
</script>
</body>
</html>
